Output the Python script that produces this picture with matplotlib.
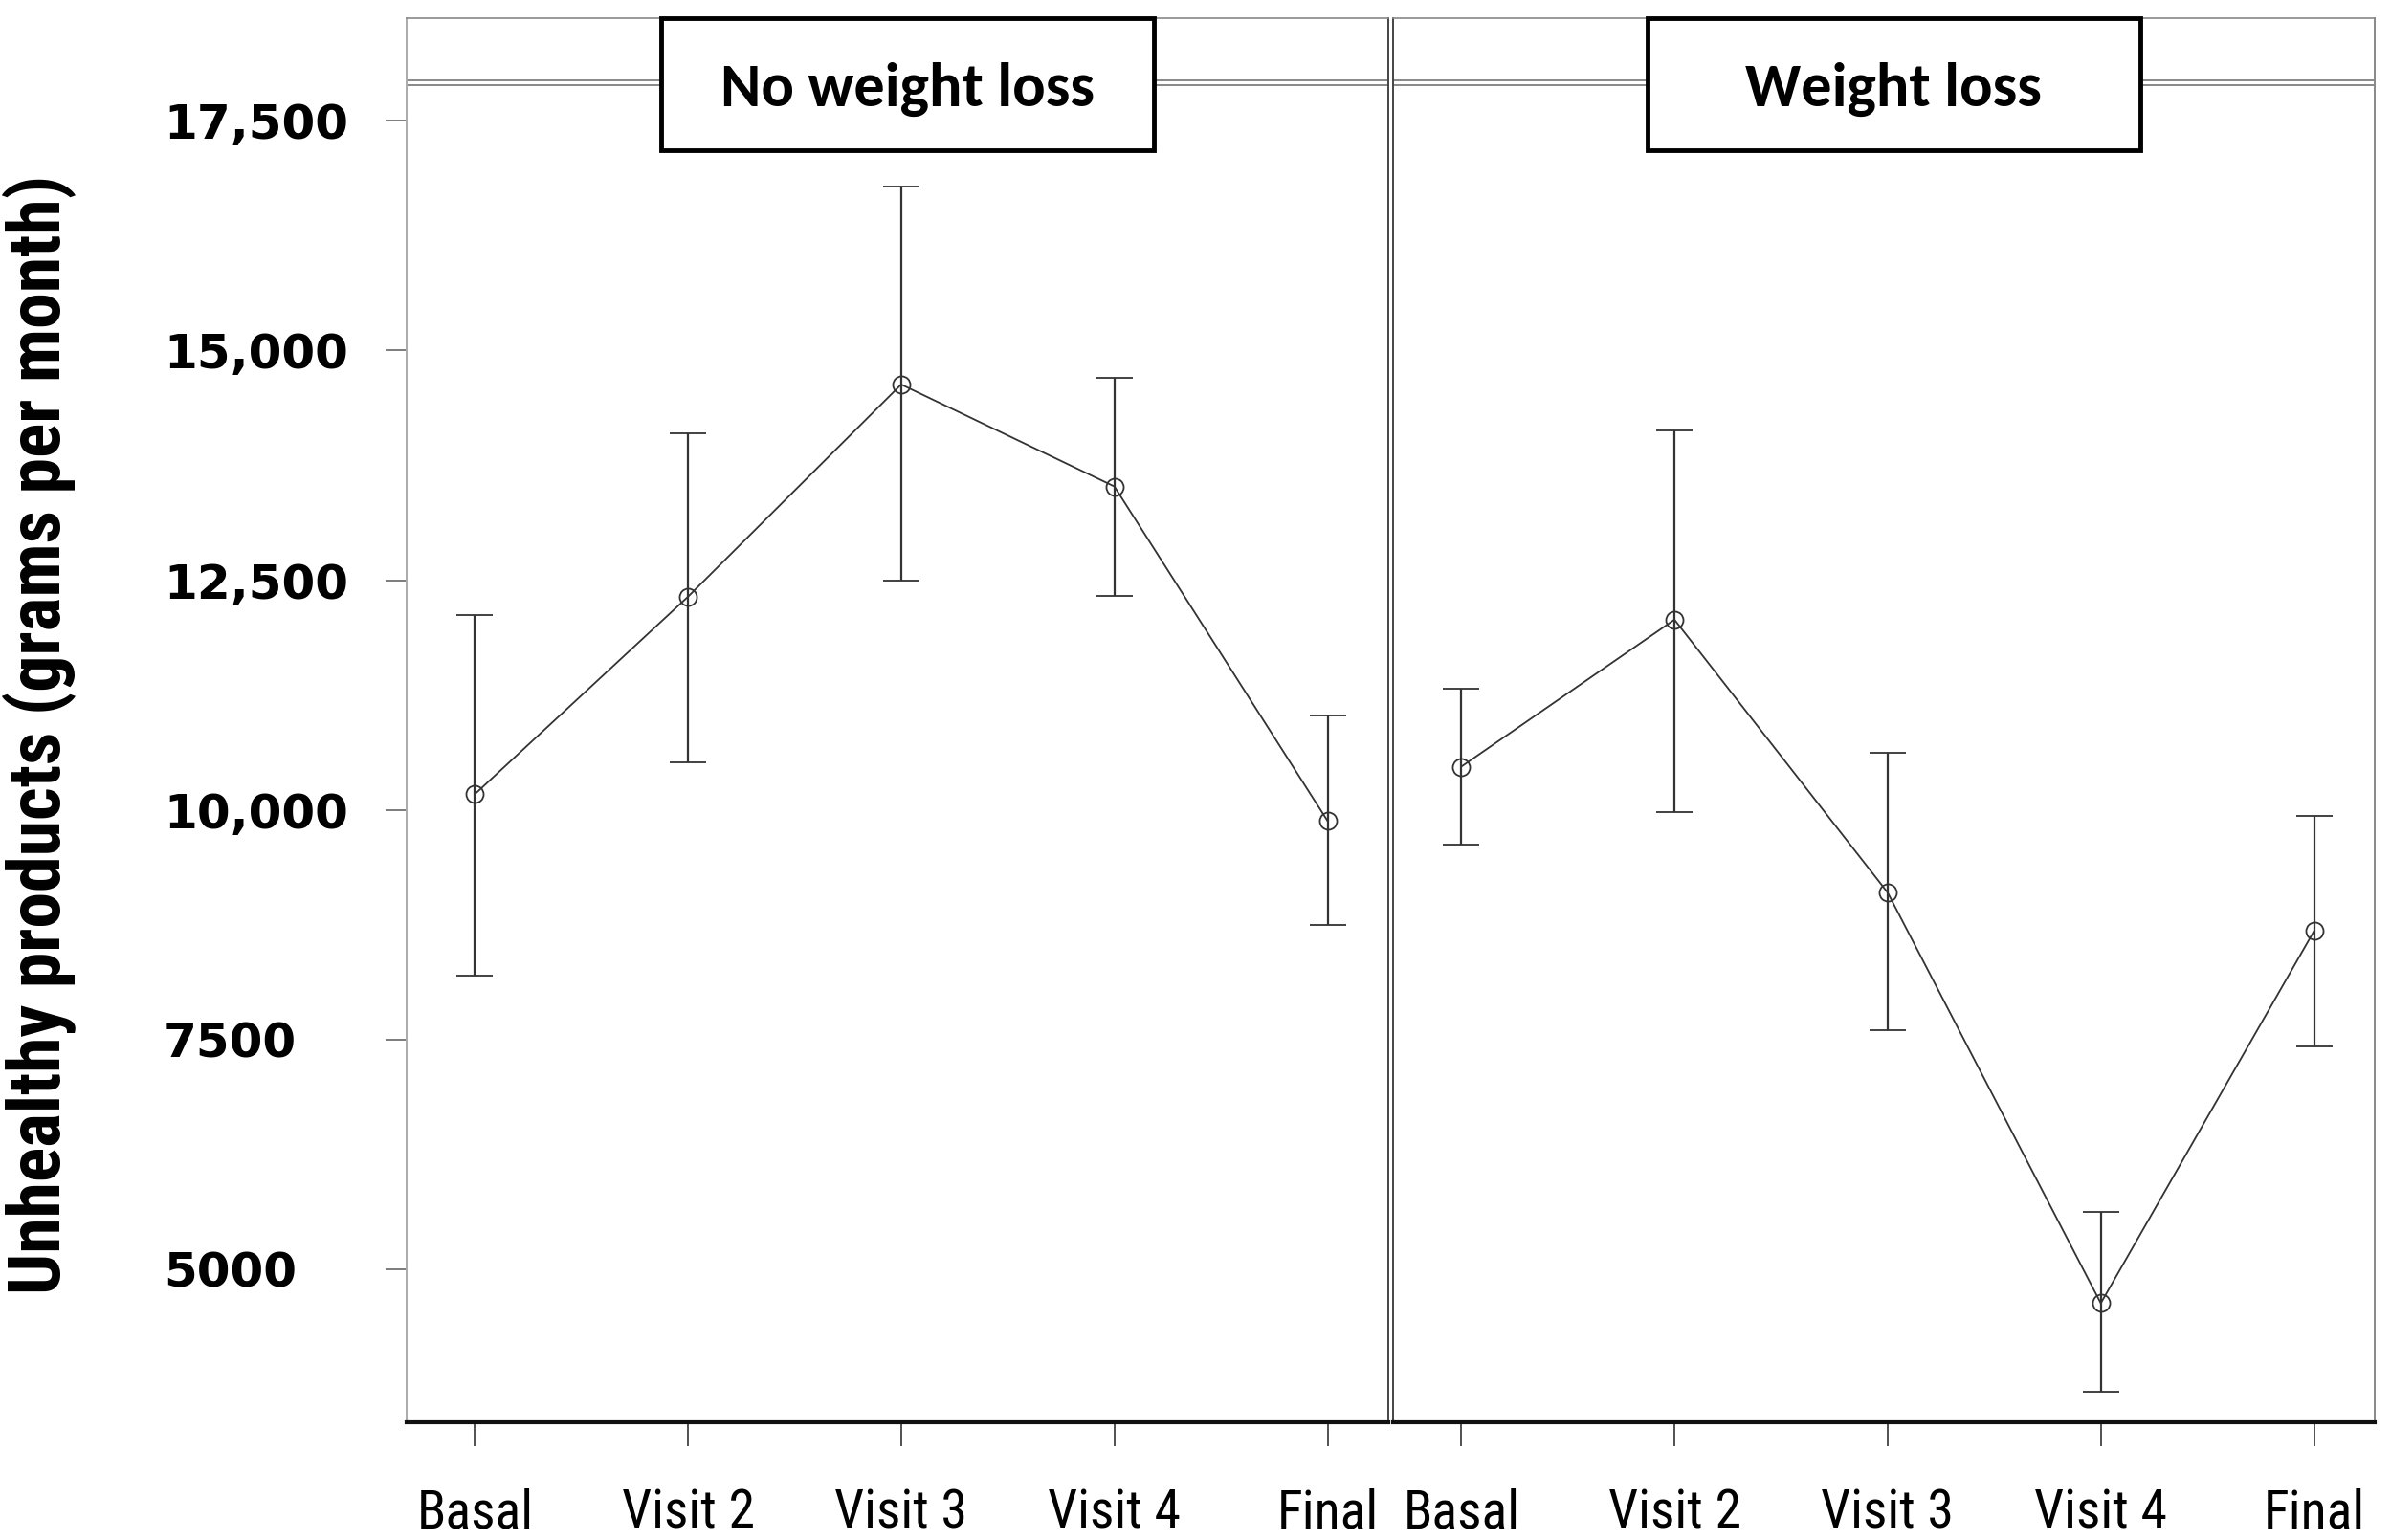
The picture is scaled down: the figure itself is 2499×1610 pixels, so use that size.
import matplotlib
matplotlib.use('Agg')
import matplotlib.pyplot as plt
from matplotlib.patches import Rectangle
from matplotlib import font_manager
import numpy as np

visits = ['Basal', 'Visit 2', 'Visit 3', 'Visit 4', 'Final']
panel_titles = ['No weight loss', 'Weight loss']

no_loss_mean = [10170, 12320, 14630, 13520, 9880]
no_loss_upper = [12120, 14100, 16780, 14700, 11030]
no_loss_lower = [8200, 10520, 12500, 12330, 8750]

loss_mean = [10470, 12070, 9100, 4630, 8680]
loss_upper = [11320, 14130, 10620, 5620, 9930]
loss_lower = [9620, 9980, 7600, 3670, 7420]

y_ticks = [5000, 7500, 10000, 12500, 15000, 17500]
y_tick_labels = ['5000', '7500', '10,000', '12,500', '15,000', '17,500']

avail = set(f.name for f in font_manager.fontManager.ttflist)


def pick(*cands):
    return [c for c in cands if c in avail] + ['DejaVu Sans']


condensed = pick('Roboto Condensed', 'Liberation Sans Narrow', 'Carlito')
calibri = pick('Carlito', 'Open Sans', 'Liberation Sans')

fig = plt.figure(figsize=(24.99, 16.10), dpi=100)
renderer = fig.canvas.get_renderer()


def fit_size(text, target_px, **kw):
    # font size that makes `text` target_px wide
    t = fig.text(0, 0, text, fontsize=40, **kw)
    w = t.get_window_extent(renderer).width
    t.remove()
    return 40 * target_px / w


W, H = 2499.0, 1610.0
bottom = 1 - 1487 / H
height = (1487 - 19) / H
ax_left = fig.add_axes([425 / W, bottom, 1026 / W, height])
ax_right = fig.add_axes([1456 / W, bottom, 1026 / W, height])

series = [(no_loss_mean, no_loss_upper, no_loss_lower),
          (loss_mean, loss_upper, loss_lower)]

x = np.arange(1, len(visits) + 1)

xtick_fs = fit_size('Visit 2', 139, family=condensed)
title_fs = fit_size('No weight loss', 390, family=calibri, fontweight='bold')

for ax, title, (mean, upper, lower) in zip([ax_left, ax_right], panel_titles, series):
    mean = np.array(mean)
    yerr = [mean - np.array(lower), np.array(upper) - mean]
    ax.errorbar(x, mean, yerr=yerr, fmt='-o', color='#333333', mfc='none',
                ms=13, mew=1.3, lw=1.3, elinewidth=1.6, capsize=14, capthick=2.4)
    ax.set_xlim(0.68, 5.285)
    ax.set_ylim(3333, 18617)
    ax.set_xticks(x)
    ax.set_xticklabels(visits, family=condensed, fontsize=xtick_fs)
    ax.tick_params(axis='x', length=18, width=1.2, color='#333333', pad=31)

    # facet strip: double line + label box
    for yy in (0.9557, 0.9520):
        ax.axhline(ax.get_ylim()[0] + yy * (ax.get_ylim()[1] - ax.get_ylim()[0]),
                   color='#888888', lw=1.4)
    ax.add_patch(Rectangle((0.259, 0.906), 0.502, 0.094, transform=ax.transAxes,
                           facecolor='white', edgecolor='black', lw=3.5,
                           clip_on=False, zorder=5))
    ax.text(0.51, 0.949, title, transform=ax.transAxes, ha='center', va='center',
            fontsize=title_fs, fontweight='bold', family=calibri, zorder=6)

    ax.spines['top'].set_color('#888888')
    ax.spines['top'].set_linewidth(1.2)
    ax.spines['bottom'].set_color('#111111')
    ax.spines['bottom'].set_linewidth(3)
    for s in ('left', 'right'):
        ax.spines[s].set_color('#444444')
        ax.spines[s].set_linewidth(1.4)

ax_left.spines['left'].set_color('#aaaaaa')
ax_right.spines['right'].set_color('#888888')

ax_left.set_yticks(y_ticks)
ax_left.set_yticklabels(y_tick_labels, fontsize=36, fontweight='bold', ha='left')
ax_left.tick_params(axis='y', length=16, width=1.2, color='#666666', pad=167)
ax_right.set_yticks([])

ylab = 'Unhealthy products (grams per month)'
ylab_fs = fit_size(ylab, 1170, family=condensed, fontweight='bold')
ax_left.set_ylabel(ylab, family=condensed, fontsize=ylab_fs, fontweight='bold')
ax_left.yaxis.set_label_coords(-0.336, 0.49)

fig.savefig('out.png', dpi=100)
